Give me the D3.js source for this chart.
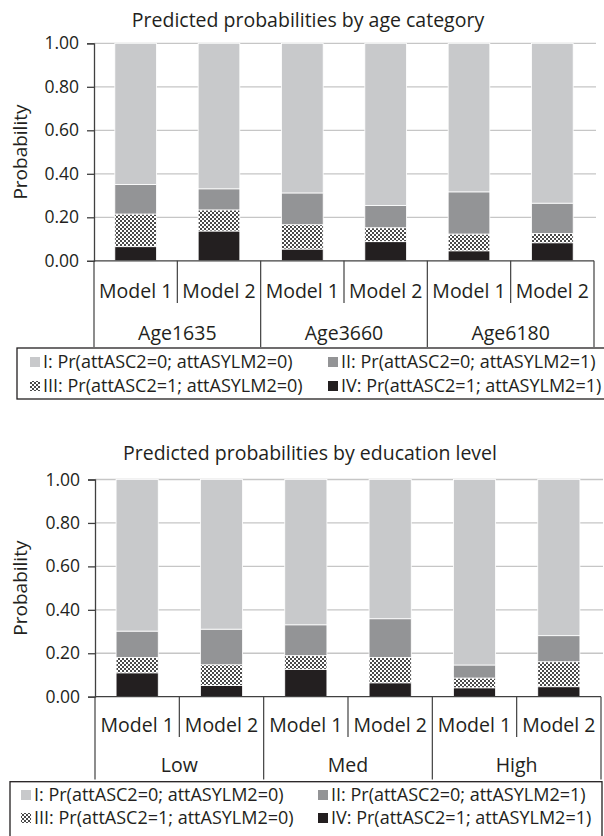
<!DOCTYPE html>
<html>
<head>
<meta charset="utf-8">
<script src="https://cdn.jsdelivr.net/npm/d3@7"></script>
<style>
  body { margin: 0; background: #fff; }
  text { font-family: "Open Sans", sans-serif; fill: #231f20; }
</style>
</head>
<body>
<div id="chart"></div>
<script>
// categories
const models = ["Model 1", "Model 2"];
const ageGroups = ["Age1635", "Age3660", "Age6180"];
const eduGroups = ["Low", "Med", "High"];
const seriesNames = [
  "I: Pr(attASC2=0; attASYLM2=0)",
  "II: Pr(attASC2=0; attASYLM2=1)",
  "III: Pr(attASC2=1; attASYLM2=0)",
  "IV: Pr(attASC2=1; attASYLM2=1)"
];
const yTicks = [0, 0.2, 0.4, 0.6, 0.8, 1.0];

// segment values, bar order: group1 M1, group1 M2, group2 M1, ...
const ageIV  = [0.065, 0.137, 0.054, 0.088, 0.046, 0.083];
const ageIII = [0.150, 0.097, 0.112, 0.064, 0.077, 0.043];
const ageII  = [0.136, 0.097, 0.146, 0.102, 0.194, 0.139];
const ageI   = [0.649, 0.669, 0.688, 0.746, 0.683, 0.735];

const eduIV  = [0.110, 0.052, 0.126, 0.064, 0.041, 0.046];
const eduIII = [0.071, 0.095, 0.063, 0.117, 0.045, 0.115];
const eduII  = [0.121, 0.164, 0.142, 0.178, 0.060, 0.120];
const eduI   = [0.698, 0.689, 0.669, 0.641, 0.854, 0.719];

const svg = d3.select("#chart").append("svg")
  .attr("width", 604).attr("height", 836);

// checker pattern for series III
const defs = svg.append("defs");
const pat = defs.append("pattern")
  .attr("id", "checker").attr("patternUnits", "userSpaceOnUse")
  .attr("width", 4).attr("height", 4);
pat.append("rect").attr("width", 4).attr("height", 4).attr("fill", "#fff");
pat.append("rect").attr("width", 2).attr("height", 2).attr("fill", "#4a4a4a");
pat.append("rect").attr("x", 2).attr("y", 2).attr("width", 2).attr("height", 2).attr("fill", "#4a4a4a");

const fills = {
  "I": "#c8c9cb",
  "II": "#939496",
  "III": "url(#checker)",
  "IV": "#231f20"
};

function drawChart(cfg) {
  const g = svg.append("g");
  const keys = ["IV", "III", "II", "I"];
  const rows = [];
  cfg.groups.forEach((grp, gi) => {
    models.forEach((m, mi) => {
      const i = gi * models.length + mi;
      rows.push({ id: grp + "|" + m, IV: cfg.IV[i], III: cfg.III[i], II: cfg.II[i], I: cfg.I[i] });
    });
  });

  const x = d3.scaleBand()
    .domain(rows.map(d => d.id))
    .range([cfg.left, cfg.right])
    .paddingInner(0.5).paddingOuter(0.25);
  const xCat = d3.scaleBand()
    .domain(rows.map(d => d.id))
    .range([cfg.left, cfg.right]);
  const y = d3.scaleLinear().domain([0, 1]).range([cfg.bottom, cfg.top]);

  // title
  g.append("text")
    .attr("x", cfg.titleX).attr("y", cfg.titleY)
    .attr("text-anchor", "middle")
    .style("font-size", "19.5px")
    .text(cfg.title);

  // gridlines
  g.append("g").selectAll("line")
    .data(yTicks.slice(1))
    .join("line")
    .attr("x1", cfg.left).attr("x2", cfg.right + 2)
    .attr("y1", d => y(d)).attr("y2", d => y(d))
    .attr("stroke", "#c6c6c6").attr("stroke-width", 1.3);

  // stacked bars
  const stacked = d3.stack().keys(keys)(rows);
  g.append("g").selectAll("g")
    .data(stacked)
    .join("g")
    .attr("fill", d => fills[d.key])
    .selectAll("rect")
    .data(d => d)
    .join("rect")
    .attr("x", d => x(d.data.id))
    .attr("width", x.bandwidth())
    .attr("y", d => y(d[1]))
    .attr("height", d => y(d[0]) - y(d[1]))
    .attr("stroke", "#fff").attr("stroke-width", 0.8);

  // y axis
  const yAxis = g.append("g")
    .attr("transform", `translate(${cfg.left},0)`)
    .call(d3.axisLeft(y).tickValues(yTicks).tickFormat(d3.format(".2f")).tickSize(7).tickPadding(8));
  yAxis.select(".domain").attr("stroke", "#404040").attr("stroke-width", 1.3);
  yAxis.selectAll(".tick line").attr("stroke", "#404040").attr("stroke-width", 1.3);
  yAxis.selectAll(".tick text")
    .style("font-family", "'Open Sans', sans-serif")
    .style("font-size", "17.5px").attr("fill", "#231f20");

  g.append("text")
    .attr("transform", `translate(${cfg.yLabelX},${(cfg.top + cfg.bottom) / 2}) rotate(-90)`)
    .attr("text-anchor", "middle")
    .attr("dy", "0.35em")
    .style("font-size", "19px")
    .text("Probability");

  // x axis line
  g.append("line")
    .attr("x1", cfg.left).attr("x2", cfg.right)
    .attr("y1", cfg.bottom).attr("y2", cfg.bottom)
    .attr("stroke", "#404040").attr("stroke-width", 1.3);

  // model dividers (short) and group dividers (long)
  const bounds = rows.map(d => xCat(d.id)).concat([cfg.right]);
  g.append("g").selectAll("line")
    .data(bounds)
    .join("line")
    .attr("x1", d => d).attr("x2", d => d)
    .attr("y1", cfg.bottom)
    .attr("y2", (d, i) => i % models.length === 0 ? cfg.groupLineEnd : cfg.modelLineEnd)
    .attr("stroke", "#404040").attr("stroke-width", 1.2);

  // model labels
  g.append("g").selectAll("text")
    .data(rows)
    .join("text")
    .attr("x", d => xCat(d.id) + xCat.bandwidth() / 2)
    .attr("y", cfg.modelY)
    .attr("text-anchor", "middle")
    .style("font-size", "19.5px")
    .text(d => d.id.split("|")[1]);

  // group labels
  const gw = xCat.bandwidth() * models.length;
  g.append("g").selectAll("text")
    .data(cfg.groups)
    .join("text")
    .attr("x", (d, i) => cfg.left + gw * i + gw / 2)
    .attr("y", cfg.groupY)
    .attr("text-anchor", "middle")
    .style("font-size", "19.5px")
    .text(d => d);

  // legend
  const lg = g.append("g");
  lg.append("rect")
    .attr("x", cfg.legX).attr("y", cfg.legY)
    .attr("width", cfg.legW).attr("height", cfg.legH)
    .attr("fill", "none").attr("stroke", "#231f20").attr("stroke-width", 1.3);
  const legKeys = ["I", "II", "III", "IV"];
  legKeys.forEach((k, i) => {
    const col = i % 2, row = Math.floor(i / 2);
    const sx = cfg.legCols[col];
    const cy = cfg.legRows[row];
    lg.append("rect")
      .attr("x", sx).attr("y", cy - 5)
      .attr("width", 10).attr("height", 10)
      .attr("fill", fills[k]);
    lg.append("text")
      .attr("x", sx + 13).attr("y", cy)
      .attr("dy", "0.35em")
      .style("font-size", "18px")
      .text(seriesNames[i]);
  });
}

drawChart({
  title: "Predicted probabilities by age category",
  groups: ageGroups,
  IV: ageIV, III: ageIII, II: ageII, I: ageI,
  left: 94, right: 594, top: 43.3, bottom: 260.8,
  titleX: 308, titleY: 27, yLabelX: 20,
  modelLineEnd: 303, groupLineEnd: 347,
  modelY: 297.5, groupY: 340,
  legX: 17, legY: 348, legW: 600, legH: 51,
  legCols: [30, 328], legRows: [362, 386]
});

drawChart({
  title: "Predicted probabilities by education level",
  groups: eduGroups,
  IV: eduIV, III: eduIII, II: eduII, I: eduI,
  left: 95, right: 601, top: 479.5, bottom: 696.7,
  titleX: 310, titleY: 460, yLabelX: 20,
  modelLineEnd: 737, groupLineEnd: 779.5,
  modelY: 731.5, groupY: 771.5,
  legX: 10, legY: 781.7, legW: 592, legH: 56,
  legCols: [21, 318], legRows: [795, 818]
});
</script>
</body>
</html>
